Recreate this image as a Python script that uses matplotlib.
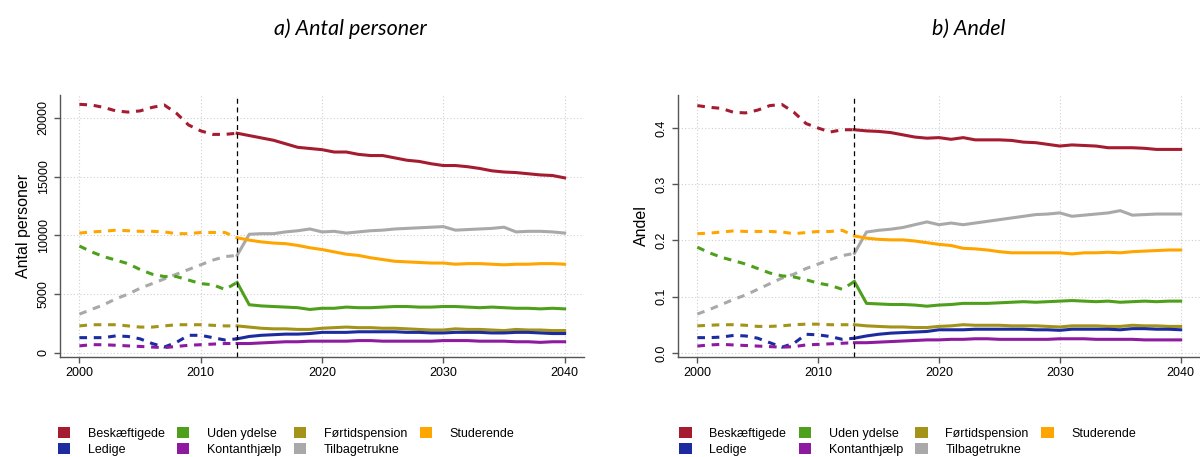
import matplotlib.pyplot as plt
from matplotlib.patches import Patch

# Aar: historik (stiplet) og fremskrivning (fuldt optrukket)
years_hist = list(range(2000, 2014))
years_proj = list(range(2013, 2041))

labels = ["Beskæftigede", "Ledige", "Uden ydelse", "Kontanthjælp",
          "Førtidspension", "Tilbagetrukne", "Studerende"]
colors = ["#A51C30", "#1C2CA0", "#4EA01C", "#8E1AA0",
          "#A39318", "#A9A9A9", "#FFA500"]

# ---- a) Antal personer ----
besk_n_hist = [21160, 21100, 20900, 20600, 20500, 20600, 20900, 21100, 20400,
               19400, 18900, 18600, 18600, 18700]
besk_n_proj = [18700, 18500, 18300, 18100, 17800, 17500, 17400, 17300, 17100,
               17100, 16900, 16800, 16800, 16600, 16400, 16300, 16100, 15950,
               15950, 15850, 15700, 15500, 15400, 15350, 15250, 15150, 15100,
               14900]
led_n_hist = [1300, 1300, 1300, 1450, 1400, 1200, 800, 500, 900, 1500, 1500,
              1300, 1100, 1200]
led_n_proj = [1200, 1400, 1500, 1550, 1600, 1600, 1650, 1750, 1750, 1750, 1800,
              1800, 1800, 1800, 1750, 1750, 1700, 1700, 1750, 1750, 1750, 1700,
              1700, 1750, 1750, 1700, 1650, 1650]
uden_n_hist = [9100, 8600, 8200, 7900, 7600, 7100, 6700, 6500, 6500, 6200,
               5900, 5800, 5400, 6000]
uden_n_proj = [6000, 4100, 4000, 3950, 3900, 3850, 3700, 3800, 3800, 3900,
               3850, 3850, 3900, 3950, 3950, 3900, 3900, 3950, 3950, 3900,
               3850, 3900, 3850, 3800, 3800, 3750, 3800, 3750]
kont_n_hist = [600, 700, 700, 650, 600, 550, 500, 450, 550, 650, 700, 750,
               800, 800]
kont_n_proj = [800, 800, 850, 900, 950, 950, 1000, 1000, 1000, 1000, 1050,
               1050, 1000, 1000, 1000, 1000, 1000, 1050, 1050, 1050, 1000,
               1000, 1000, 950, 950, 900, 950, 950]
fort_n_hist = [2300, 2400, 2400, 2400, 2300, 2200, 2200, 2300, 2400, 2400,
               2400, 2350, 2300, 2300]
fort_n_proj = [2300, 2200, 2100, 2050, 2050, 2000, 2000, 2100, 2150, 2200,
               2150, 2150, 2100, 2100, 2050, 2000, 1950, 1950, 2050, 2000,
               2000, 1950, 1900, 2000, 1950, 1950, 1900, 1900]
tilb_n_hist = [3300, 3700, 4100, 4600, 5000, 5500, 5900, 6300, 6700, 7100,
               7500, 7900, 8200, 8300]
tilb_n_proj = [8300, 10100, 10150, 10150, 10300, 10400, 10550, 10300, 10350,
               10200, 10300, 10400, 10450, 10550, 10600, 10650, 10700, 10750,
               10450, 10500, 10550, 10600, 10700, 10300, 10350, 10350, 10300,
               10200]
stud_n_hist = [10200, 10300, 10350, 10450, 10400, 10350, 10350, 10300, 10150,
               10150, 10250, 10250, 10250, 9800]
stud_n_proj = [9800, 9600, 9450, 9350, 9300, 9150, 8950, 8800, 8600, 8400,
               8300, 8100, 7950, 7800, 7750, 7700, 7650, 7650, 7550, 7600,
               7600, 7550, 7500, 7550, 7550, 7600, 7600, 7550]

# ---- b) Andel ----
besk_s_hist = [0.440, 0.437, 0.435, 0.428, 0.427, 0.432, 0.440, 0.442, 0.428,
               0.408, 0.400, 0.393, 0.397, 0.397]
besk_s_proj = [0.397, 0.395, 0.394, 0.392, 0.388, 0.384, 0.382, 0.383, 0.380,
               0.383, 0.379, 0.379, 0.379, 0.378, 0.375, 0.374, 0.371, 0.368,
               0.370, 0.369, 0.368, 0.365, 0.365, 0.365, 0.364, 0.362, 0.362,
               0.362]
led_s_hist = [0.027, 0.027, 0.028, 0.031, 0.030, 0.026, 0.018, 0.010, 0.017,
              0.033, 0.032, 0.029, 0.024, 0.026]
led_s_proj = [0.026, 0.030, 0.033, 0.035, 0.036, 0.037, 0.038, 0.041, 0.041,
              0.041, 0.042, 0.042, 0.042, 0.042, 0.042, 0.041, 0.041, 0.040,
              0.042, 0.042, 0.042, 0.042, 0.041, 0.043, 0.043, 0.042, 0.042,
              0.041]
uden_s_hist = [0.188, 0.178, 0.170, 0.164, 0.158, 0.150, 0.142, 0.137, 0.135,
               0.130, 0.124, 0.120, 0.113, 0.127]
uden_s_proj = [0.127, 0.088, 0.087, 0.086, 0.086, 0.085, 0.083, 0.085, 0.086,
               0.088, 0.088, 0.088, 0.089, 0.090, 0.091, 0.090, 0.091, 0.092,
               0.093, 0.092, 0.091, 0.092, 0.090, 0.091, 0.092, 0.091, 0.092,
               0.092]
kont_s_hist = [0.012, 0.014, 0.015, 0.014, 0.013, 0.012, 0.011, 0.010, 0.011,
               0.014, 0.015, 0.016, 0.017, 0.018]
kont_s_proj = [0.018, 0.018, 0.019, 0.020, 0.021, 0.022, 0.023, 0.023, 0.024,
               0.024, 0.025, 0.025, 0.024, 0.024, 0.024, 0.024, 0.024, 0.025,
               0.025, 0.025, 0.024, 0.024, 0.024, 0.024, 0.023, 0.023, 0.023,
               0.023]
fort_s_hist = [0.048, 0.049, 0.050, 0.050, 0.049, 0.047, 0.047, 0.048, 0.050,
               0.051, 0.051, 0.050, 0.050, 0.050]
fort_s_proj = [0.050, 0.048, 0.047, 0.046, 0.046, 0.045, 0.045, 0.047, 0.048,
               0.050, 0.049, 0.049, 0.049, 0.048, 0.048, 0.048, 0.047, 0.046,
               0.048, 0.048, 0.048, 0.047, 0.047, 0.049, 0.048, 0.048, 0.047,
               0.047]
tilb_s_hist = [0.069, 0.077, 0.086, 0.095, 0.103, 0.113, 0.123, 0.133, 0.140,
               0.150, 0.158, 0.166, 0.173, 0.177]
tilb_s_proj = [0.177, 0.215, 0.218, 0.220, 0.223, 0.228, 0.233, 0.228, 0.231,
               0.228, 0.231, 0.234, 0.237, 0.240, 0.243, 0.246, 0.247, 0.249,
               0.243, 0.245, 0.247, 0.249, 0.253, 0.245, 0.246, 0.247, 0.247,
               0.247]
stud_s_hist = [0.212, 0.213, 0.215, 0.217, 0.216, 0.216, 0.216, 0.215, 0.212,
               0.214, 0.216, 0.216, 0.218, 0.208]
stud_s_proj = [0.208, 0.204, 0.202, 0.201, 0.201, 0.199, 0.196, 0.193, 0.191,
               0.186, 0.185, 0.183, 0.180, 0.178, 0.178, 0.178, 0.178, 0.178,
               0.176, 0.178, 0.178, 0.179, 0.178, 0.180, 0.181, 0.182, 0.183,
               0.183]

counts = [(besk_n_hist, besk_n_proj), (led_n_hist, led_n_proj),
          (uden_n_hist, uden_n_proj), (kont_n_hist, kont_n_proj),
          (fort_n_hist, fort_n_proj), (tilb_n_hist, tilb_n_proj),
          (stud_n_hist, stud_n_proj)]
shares = [(besk_s_hist, besk_s_proj), (led_s_hist, led_s_proj),
          (uden_s_hist, uden_s_proj), (kont_s_hist, kont_s_proj),
          (fort_s_hist, fort_s_proj), (tilb_s_hist, tilb_s_proj),
          (stud_s_hist, stud_s_proj)]

# tegne-rækkefølge (grå under, rød øverst)
draw_order = [5, 6, 2, 4, 1, 3, 0]

plt.rcParams['font.family'] = ['Liberation Sans', 'DejaVu Sans']

fig = plt.figure(figsize=(12, 4.57), dpi=100)
ax1 = fig.add_axes([0.050, 0.219, 0.4367, 0.5733])
ax2 = fig.add_axes([0.565, 0.219, 0.435, 0.5733])


def style_axis(ax, ylim, yticks, ylabels, ylab):
    ax.set_xlim(1998.4, 2041.6)
    ax.set_ylim(*ylim)
    ax.set_xticks([2000, 2010, 2020, 2030, 2040])
    ax.set_yticks(yticks)
    ax.set_yticklabels(ylabels, rotation=90, va='center')
    ax.grid(True, color='#CFCFCF', linestyle=(0, (1, 2)), linewidth=0.8)
    ax.set_axisbelow(True)
    for s in ['top', 'right']:
        ax.spines[s].set_visible(False)
    for s in ['left', 'bottom']:
        ax.spines[s].set_color('#555555')
        ax.spines[s].set_linewidth(1.0)
    ax.tick_params(colors='#555555', labelcolor='black', labelsize=9,
                   length=4, width=1.0)
    ax.set_ylabel(ylab, fontsize=11.5, labelpad=5)


def draw(ax, data):
    for i in draw_order:
        hist, proj = data[i]
        ax.plot(years_hist, hist, color=colors[i], lw=2.2,
                dashes=(2.5, 2.2), solid_capstyle='butt')
        ax.plot(years_proj, proj, color=colors[i], lw=2.2)
    ax.axvline(2013, color='black', lw=0.9, dashes=(4, 3))


draw(ax1, counts)
style_axis(ax1, (-340, 21960), [0, 5000, 10000, 15000, 20000],
           ["0", "5000", "10000", "15000", "20000"], "Antal personer")

draw(ax2, shares)
style_axis(ax2, (-0.0073, 0.459), [0.0, 0.1, 0.2, 0.3, 0.4],
           ["0.0", "0.1", "0.2", "0.3", "0.4"], "Andel")

fig.text(0.292, 0.937, "a) Antal personer", fontsize=15.5, style='italic',
         family=['Lato', 'DejaVu Sans'], ha='center', va='center')
fig.text(0.807, 0.937, "b) Andel", fontsize=15.5, style='italic',
         family=['Lato', 'DejaVu Sans'], ha='center', va='center')

handles = [Patch(facecolor=c, edgecolor='none', label=l)
           for c, l in zip(colors, labels)]
for x0 in [0.048, 0.566]:
    fig.legend(handles=handles, loc='upper left', bbox_to_anchor=(x0, 0.066),
               ncol=4, frameon=False, fontsize=9, handlelength=1.0,
               handleheight=1.0, handletextpad=1.4, columnspacing=1.0,
               labelspacing=0.25, borderpad=0, borderaxespad=0)

fig.savefig("out.png", dpi=100)
